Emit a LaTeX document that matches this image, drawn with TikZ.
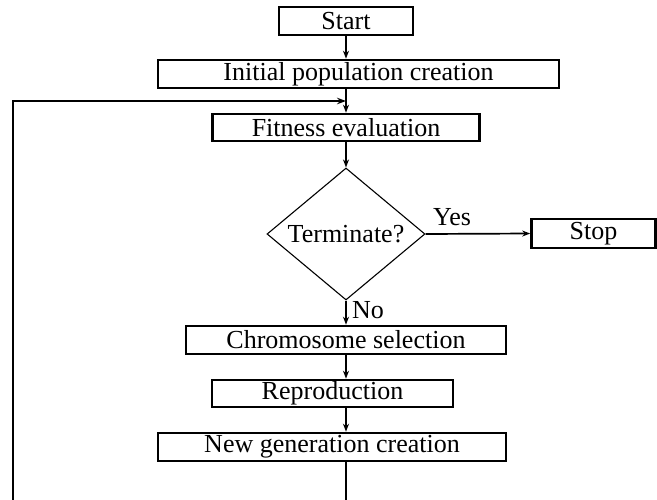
\documentclass[tikz,border=0pt]{standalone}
\usepackage{fontspec}
\setmainfont{Liberation Serif}
\usetikzlibrary{shapes.geometric,arrows.meta}
\begin{document}
\begin{tikzpicture}[x=1pt,y=-1pt,
  box/.style={draw, line width=2.6pt, rectangle, inner sep=0pt, font=\fontsize{26}{30}\selectfont},
  lab/.style={inner sep=0pt, font=\fontsize{26}{30}\selectfont},
  conn/.style={line width=1.7pt, -{Stealth[length=8pt,width=6pt]}},
  loopline/.style={line width=2.5pt, -{Stealth[length=9pt,width=6.5pt]}}
]
\useasboundingbox (0,0) rectangle (657,499);
\clip (0,0) rectangle (657,499);
\node[box, minimum width=134pt, minimum height=28pt] (start) at (346,21) {Start};
\node[box, minimum width=401pt, minimum height=28pt] (init) at (358.5,74) {Initial population creation};
\node[box, minimum width=267pt, minimum height=27pt] (fit) at (346,127.5) {Fitness evaluation};
\node[draw, diamond, line width=1.1pt, aspect=1.2, inner sep=0pt, minimum width=158pt, minimum height=132pt, font=\fontsize{26}{30}\selectfont] (dec) at (346,234) {Terminate?};
\node[box, minimum width=124pt, minimum height=29pt] (stop) at (593.5,233.5) {Stop};
\node[box, minimum width=320pt, minimum height=28pt] (chrom) at (346,340) {Chromosome selection};
\node[box, minimum width=241pt, minimum height=27pt] (repro) at (332.5,393.5) {Reproduction};
\node[box, minimum width=348pt, minimum height=28pt] (newgen) at (332,447) {New generation creation};
\node[lab, anchor=base west] (yes) at (433,225) {Yes};
\node[lab, anchor=base west] (no) at (352,318) {No};
\coordinate (lb) at (13,530);
\coordinate (lt) at (13,101);
\draw[conn] (start.south) -- (start.south |- init.north);
\draw[conn] (fit.north |- init.south) -- (fit.north);
\draw[conn] (fit.south) -- (dec.north);
\draw[conn] (dec.east) -- (stop.west);
\draw[conn] (dec.south) -- (chrom.north);
\draw[conn] (chrom.south) -- (chrom.south |- repro.north);
\draw[conn] (chrom.south |- repro.south) -- (chrom.south |- newgen.north);
\draw[loopline] (chrom.south |- newgen.south) -- (chrom.south |- lb) -- (lb) -- (lt) -- (fit.north |- lt);
\end{tikzpicture}
\end{document}
